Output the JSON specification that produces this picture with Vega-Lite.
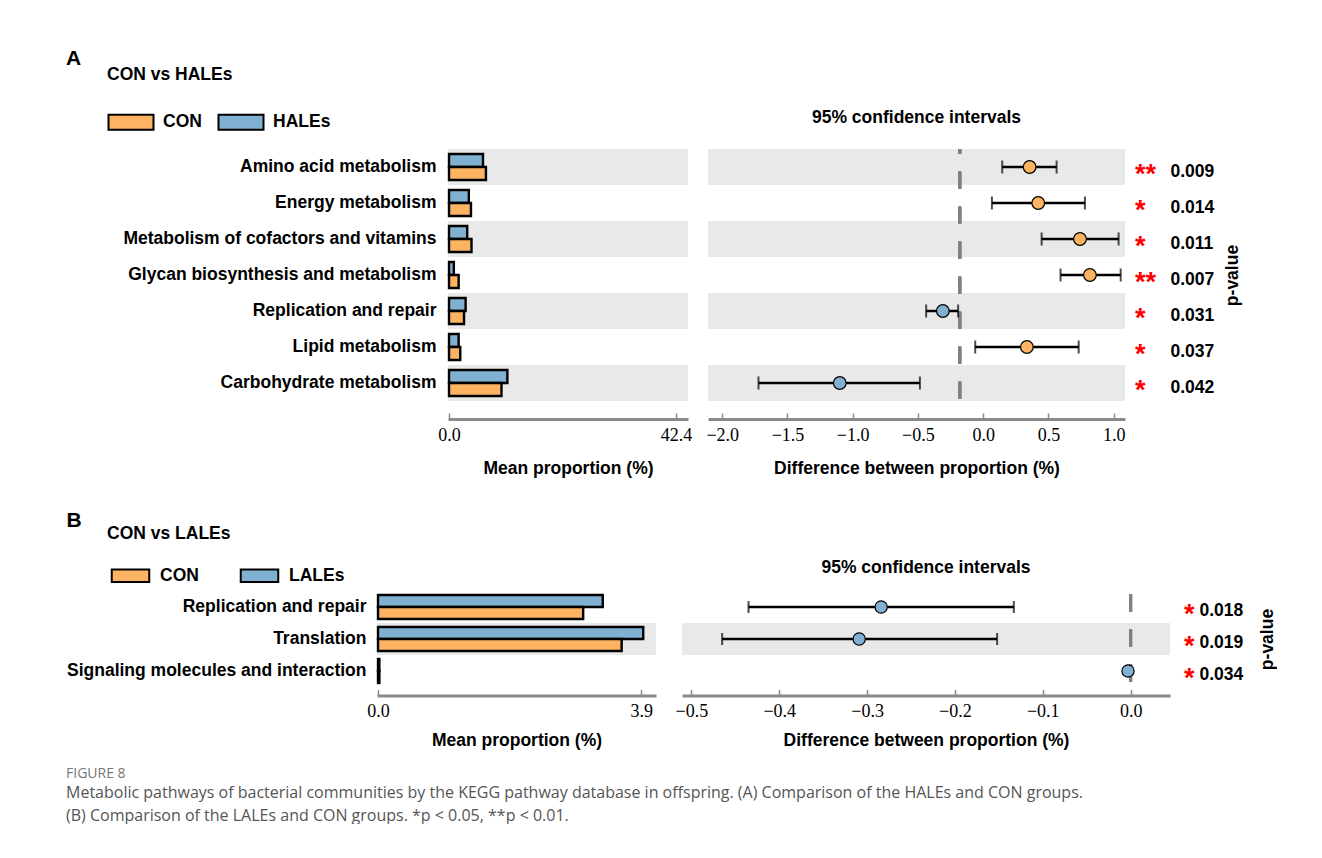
{
  "$schema": "https://vega.github.io/schema/vega-lite/v6.json",
  "padding": {"left": 66, "top": 47, "right": 0, "bottom": 0},
  "background": "white",
  "title": {
    "text": "FIGURE 8",
    "subtitle": ["Metabolic pathways of bacterial communities by the KEGG pathway database in offspring. (A) Comparison of the HALEs and CON groups.", "(B) Comparison of the LALEs and CON groups. *p < 0.05, **p < 0.01."],
    "orient": "bottom", "anchor": "start", "frame": "bounds", "offset": 18,
    "font": "Open Sans", "fontSize": 14, "fontWeight": "normal", "color": "#777777",
    "subtitleFont": "Open Sans", "subtitleFontSize": 16, "subtitleColor": "#555555", "subtitleLineHeight": 23, "subtitlePadding": 4
  },
  "datasets": {
    "a_bars": [
      {"pathway": "Amino acid metabolism", "group": "HALEs", "value": 6.35},
      {"pathway": "Amino acid metabolism", "group": "CON", "value": 6.9},
      {"pathway": "Energy metabolism", "group": "HALEs", "value": 3.7},
      {"pathway": "Energy metabolism", "group": "CON", "value": 4.1},
      {"pathway": "Metabolism of cofactors and vitamins", "group": "HALEs", "value": 3.4},
      {"pathway": "Metabolism of cofactors and vitamins", "group": "CON", "value": 4.2},
      {"pathway": "Glycan biosynthesis and metabolism", "group": "HALEs", "value": 0.9},
      {"pathway": "Glycan biosynthesis and metabolism", "group": "CON", "value": 1.8},
      {"pathway": "Replication and repair", "group": "HALEs", "value": 3.1},
      {"pathway": "Replication and repair", "group": "CON", "value": 2.8},
      {"pathway": "Lipid metabolism", "group": "HALEs", "value": 1.8},
      {"pathway": "Lipid metabolism", "group": "CON", "value": 2.1},
      {"pathway": "Carbohydrate metabolism", "group": "HALEs", "value": 10.9},
      {"pathway": "Carbohydrate metabolism", "group": "CON", "value": 9.8}
    ],
    "a_ci": [
      {"pathway": "Amino acid metabolism", "diff": 0.356, "lo": 0.146, "hi": 0.563, "grp": "CON", "p": "0.009", "stars": "**"},
      {"pathway": "Energy metabolism", "diff": 0.422, "lo": 0.067, "hi": 0.78, "grp": "CON", "p": "0.014", "stars": "*"},
      {"pathway": "Metabolism of cofactors and vitamins", "diff": 0.742, "lo": 0.448, "hi": 1.038, "grp": "CON", "p": "0.011", "stars": "*"},
      {"pathway": "Glycan biosynthesis and metabolism", "diff": 0.818, "lo": 0.593, "hi": 1.054, "grp": "CON", "p": "0.007", "stars": "**"},
      {"pathway": "Replication and repair", "diff": -0.309, "lo": -0.437, "hi": -0.192, "grp": "HALEs", "p": "0.031", "stars": "*"},
      {"pathway": "Lipid metabolism", "diff": 0.335, "lo": -0.061, "hi": 0.732, "grp": "CON", "p": "0.037", "stars": "*"},
      {"pathway": "Carbohydrate metabolism", "diff": -1.099, "lo": -1.722, "hi": -0.485, "grp": "HALEs", "p": "0.042", "stars": "*"}
    ],
    "b_bars": [
      {"pathway": "Replication and repair", "group": "LALEs", "value": 3.33},
      {"pathway": "Replication and repair", "group": "CON", "value": 3.04},
      {"pathway": "Translation", "group": "LALEs", "value": 3.93},
      {"pathway": "Translation", "group": "CON", "value": 3.61},
      {"pathway": "Signaling molecules and interaction", "group": "LALEs", "value": 0.02},
      {"pathway": "Signaling molecules and interaction", "group": "CON", "value": 0.02}
    ],
    "b_ci": [
      {"pathway": "Replication and repair", "diff": -0.284, "lo": -0.435, "hi": -0.133, "grp": "LALEs", "p": "0.018", "stars": "*"},
      {"pathway": "Translation", "diff": -0.309, "lo": -0.465, "hi": -0.152, "grp": "LALEs", "p": "0.019", "stars": "*"},
      {"pathway": "Signaling molecules and interaction", "diff": -0.003, "lo": -0.0045, "hi": -0.0015, "grp": "LALEs", "p": "0.034", "stars": "*"}
    ]
  },
  "concat": [
    {
      "title": {"text": "A", "anchor": "start", "frame": "bounds", "fontSize": 21, "fontWeight": "bold", "font": "Liberation Sans", "color": "black", "offset": -3, "dx": -41},
      "bounds": "flush",
      "spacing": 20,
      "resolve": {"scale": {"color": "independent", "fill": "independent", "x": "independent", "y": "independent"}, "legend": {"fill": "independent", "color": "independent"}},
      "hconcat": [
        {
          "width": 51, "height": 252,
          "data": {"values": []},
          "mark": {"type": "point", "opacity": 0},
          "encoding": {}
        },
        {
          "width": 240, "height": 252,
          "title": {"text": "CON vs HALEs", "anchor": "start", "frame": "group", "dx": -341, "offset": 23, "fontSize": 17.5, "fontWeight": "bold", "font": "Liberation Sans", "color": "black"},
          "layer": [
            {
              "data": {"name": "a_ci"},
              "transform": [{"filter": {"field": "pathway", "oneOf": ["Amino acid metabolism", "Metabolism of cofactors and vitamins", "Replication and repair", "Carbohydrate metabolism"]}}],
              "mark": {"type": "rect", "color": "#e9e9e9"},
              "encoding": {
                "y": {"field": "pathway", "type": "nominal",
                  "scale": {"domain": ["Amino acid metabolism", "Energy metabolism", "Metabolism of cofactors and vitamins", "Glycan biosynthesis and metabolism", "Replication and repair", "Lipid metabolism", "Carbohydrate metabolism"], "paddingInner": 0, "paddingOuter": 0},
                  "axis": {"title": null, "domain": false, "ticks": false, "labelPadding": 12, "labelFont": "Liberation Sans", "labelFontWeight": "bold", "labelFontSize": 17.5, "labelColor": "black", "labelLimit": 500}},
                "x": {"value": 0},
                "x2": {"value": "width"}
              }
            },
            {
              "data": {"name": "a_bars"},
              "mark": {"type": "bar", "stroke": "black", "strokeWidth": 2.4},
              "encoding": {
                "y": {"field": "pathway", "type": "nominal"},
                "yOffset": {"field": "group", "type": "nominal", "scale": {"domain": ["HALEs", "CON"], "paddingInner": 0, "paddingOuter": 0.385}},
                "x": {"field": "value", "type": "quantitative",
                  "scale": {"domain": [-0.19, 44.64], "nice": false, "zero": false},
                  "axis": {"values": [0, 42.4], "format": ".1f", "title": "Mean proportion (%)", "offset": 18, "domainColor": "#8a8a8a", "domainWidth": 3, "tickColor": "#8a8a8a", "tickWidth": 1.5, "tickSize": -6, "labelPadding": 13, "titlePadding": 15, "labelFlush": false, "labelOverlap": false}},
                "fill": {"field": "group", "type": "nominal", "scale": {"domain": ["CON", "HALEs"], "range": ["#FDB462", "#80B1D3"]},
                  "legend": {"orient": "none", "legendX": -333, "legendY": -43, "direction": "horizontal", "title": null, "symbolType": "M-1.5,-0.5H1.5V0.5H-1.5Z", "symbolSize": 900, "symbolStrokeColor": "black", "symbolStrokeWidth": 2, "symbolOpacity": 1, "labelFont": "Liberation Sans", "labelFontWeight": "bold", "labelFontSize": 17.5, "labelColor": "black", "labelOffset": 16, "columnPadding": 12}}
              }
            }
          ]
        },
        {
          "bounds": "flush",
          "spacing": 0,
          "resolve": {"scale": {"fill": "independent", "x": "independent", "y": "independent"}},
          "hconcat": [
            {
              "width": 417, "height": 252,
              "title": {"text": "95% confidence intervals", "offset": 21, "fontSize": 17.5, "fontWeight": "bold", "font": "Liberation Sans", "color": "black"},
              "data": {"name": "a_ci"},
              "encoding": {
                "y": {"field": "pathway", "type": "nominal", "axis": null,
                  "scale": {"domain": ["Amino acid metabolism", "Energy metabolism", "Metabolism of cofactors and vitamins", "Glycan biosynthesis and metabolism", "Replication and repair", "Lipid metabolism", "Carbohydrate metabolism"], "paddingInner": 0, "paddingOuter": 0}}
              },
              "layer": [
                {
                  "transform": [{"filter": {"field": "pathway", "oneOf": ["Amino acid metabolism", "Metabolism of cofactors and vitamins", "Replication and repair", "Carbohydrate metabolism"]}}],
                  "mark": {"type": "rect", "color": "#e9e9e9"},
                  "encoding": {"x": {"value": 0}, "x2": {"value": "width"}}
                },
                {
                  "mark": {"type": "rule", "color": "#808080", "strokeWidth": 3, "strokeDash": [17, 18], "strokeDashOffset": 12.3},
                  "encoding": {"x": {"datum": -0.18, "type": "quantitative"}, "y": null}
                },
                {
                  "mark": {"type": "rule", "color": "black", "strokeWidth": 2.5},
                  "encoding": {
                    "x": {"field": "lo", "type": "quantitative",
                      "scale": {"domain": [-2.109, 1.087], "nice": false, "zero": false},
                      "axis": {"values": [-2, -1.5, -1, -0.5, 0, 0.5, 1], "format": ".1f", "title": "Difference between proportion (%)", "offset": 18, "domainColor": "#8a8a8a", "domainWidth": 3, "tickColor": "#8a8a8a", "tickWidth": 1.5, "tickSize": -6, "labelPadding": 13, "titlePadding": 15, "labelFlush": false, "labelOverlap": false}},
                    "x2": {"field": "hi"}
                  }
                },
                {
                  "mark": {"type": "tick", "color": "black", "thickness": 2, "size": 13},
                  "encoding": {"x": {"field": "lo", "type": "quantitative"}}
                },
                {
                  "mark": {"type": "tick", "color": "black", "thickness": 2, "size": 13},
                  "encoding": {"x": {"field": "hi", "type": "quantitative"}}
                },
                {
                  "mark": {"type": "point", "shape": "circle", "filled": true, "size": 160, "stroke": "black", "strokeWidth": 1.2, "opacity": 1},
                  "encoding": {
                    "x": {"field": "diff", "type": "quantitative"},
                    "fill": {"field": "grp", "type": "nominal", "scale": {"domain": ["CON", "HALEs"], "range": ["#FDB462", "#80B1D3"]}, "legend": null}
                  }
                }
              ]
            },
            {
              "width": 20, "height": 252,
              "data": {"name": "a_ci"},
              "mark": {"type": "text", "color": "red", "fontSize": 27, "fontWeight": "bold", "font": "Liberation Sans", "align": "left", "baseline": "middle", "dy": 8},
              "encoding": {
                "y": {"field": "p", "type": "nominal",
                  "scale": {"domain": ["0.009", "0.014", "0.011", "0.007", "0.031", "0.037", "0.042"], "paddingInner": 0, "paddingOuter": 0},
                  "axis": {"orient": "right", "title": "p-value", "titleAngle": 270, "titleBaseline": "top", "titlePadding": 10, "titleFontSize": 17.5, "domain": false, "ticks": false, "labelPadding": 25, "labelOffset": 4, "labelFont": "Liberation Sans", "labelFontWeight": "bold", "labelFontSize": 17.5, "labelColor": "black"}},
                "text": {"field": "stars"}
              }
            }
          ]
        }
      ]
    },
    {
      "title": {"text": "B", "anchor": "start", "frame": "bounds", "fontSize": 21, "fontWeight": "bold", "font": "Liberation Sans", "color": "black", "offset": -6, "dx": 0},
      "bounds": "flush",
      "spacing": 26,
      "resolve": {"scale": {"color": "independent", "fill": "independent", "x": "independent", "y": "independent"}, "legend": {"fill": "independent", "color": "independent"}},
      "hconcat": [
        {
          "width": 279, "height": 96,
          "title": {"text": "CON vs LALEs", "anchor": "start", "frame": "group", "dx": -270, "offset": 20, "fontSize": 17.5, "fontWeight": "bold", "font": "Liberation Sans", "color": "black"},
          "layer": [
            {
              "data": {"name": "b_ci"},
              "transform": [{"filter": {"field": "pathway", "oneOf": ["Translation"]}}],
              "mark": {"type": "rect", "color": "#e9e9e9"},
              "encoding": {
                "y": {"field": "pathway", "type": "nominal",
                  "scale": {"domain": ["Replication and repair", "Translation", "Signaling molecules and interaction"], "paddingInner": 0, "paddingOuter": 0},
                  "axis": {"title": null, "domain": false, "ticks": false, "labelPadding": 11, "labelFont": "Liberation Sans", "labelFontWeight": "bold", "labelFontSize": 17.5, "labelColor": "black", "labelLimit": 500}},
                "x": {"value": 0},
                "x2": {"value": "width"}
              }
            },
            {
              "data": {"name": "b_bars"},
              "mark": {"type": "bar", "stroke": "black", "strokeWidth": 2.4},
              "encoding": {
                "y": {"field": "pathway", "type": "nominal"},
                "yOffset": {"field": "group", "type": "nominal", "scale": {"domain": ["LALEs", "CON"], "paddingInner": 0, "paddingOuter": 0.333}},
                "x": {"field": "value", "type": "quantitative",
                  "scale": {"domain": [-0.015, 4.119], "nice": false, "zero": false},
                  "axis": {"values": [0, 3.9], "format": ".1f", "title": "Mean proportion (%)", "offset": 8.5, "domainColor": "#8a8a8a", "domainWidth": 3, "tickColor": "#8a8a8a", "tickWidth": 1.5, "tickSize": -6, "labelPadding": 13, "titlePadding": 11, "labelFlush": false, "labelOverlap": false}},
                "fill": {"field": "group", "type": "nominal", "scale": {"domain": ["CON", "LALEs"], "range": ["#FDB462", "#80B1D3"]},
                  "legend": {"orient": "none", "legendX": -260, "legendY": -29, "direction": "horizontal", "title": null, "symbolType": "M-1.5,-0.5H1.5V0.5H-1.5Z", "symbolSize": 625, "symbolStrokeColor": "black", "symbolStrokeWidth": 2, "symbolOpacity": 1, "labelFont": "Liberation Sans", "labelFontWeight": "bold", "labelFontSize": 17.5, "labelColor": "black", "labelOffset": 16, "columnPadding": 37}}
              }
            }
          ]
        },
        {
          "bounds": "flush",
          "spacing": 0,
          "resolve": {"scale": {"fill": "independent", "x": "independent", "y": "independent"}},
          "hconcat": [
            {
              "width": 488, "height": 96,
              "title": {"text": "95% confidence intervals", "offset": 13, "fontSize": 17.5, "fontWeight": "bold", "font": "Liberation Sans", "color": "black"},
              "data": {"name": "b_ci"},
              "encoding": {
                "y": {"field": "pathway", "type": "nominal", "axis": null,
                  "scale": {"domain": ["Replication and repair", "Translation", "Signaling molecules and interaction"], "paddingInner": 0, "paddingOuter": 0}}
              },
              "layer": [
                {
                  "transform": [{"filter": {"field": "pathway", "oneOf": ["Translation"]}}],
                  "mark": {"type": "rect", "color": "#e9e9e9"},
                  "encoding": {"x": {"value": 0}, "x2": {"value": "width"}}
                },
                {
                  "mark": {"type": "rule", "color": "#808080", "strokeWidth": 3, "strokeDash": [18, 17], "strokeDashOffset": 32},
                  "encoding": {"x": {"datum": 0, "type": "quantitative"}, "y": null}
                },
                {
                  "mark": {"type": "rule", "color": "black", "strokeWidth": 2.5},
                  "encoding": {
                    "x": {"field": "lo", "type": "quantitative",
                      "scale": {"domain": [-0.5107, 0.0448], "nice": false, "zero": false},
                      "axis": {"values": [-0.5, -0.4, -0.3, -0.2, -0.1, 0], "format": ".1f", "title": "Difference between proportion (%)", "offset": 8.5, "domainColor": "#8a8a8a", "domainWidth": 3, "tickColor": "#8a8a8a", "tickWidth": 1.5, "tickSize": -6, "labelPadding": 13, "titlePadding": 11, "labelFlush": false, "labelOverlap": false}},
                    "x2": {"field": "hi"}
                  }
                },
                {
                  "mark": {"type": "tick", "color": "black", "thickness": 2, "size": 12},
                  "encoding": {"x": {"field": "lo", "type": "quantitative"}}
                },
                {
                  "mark": {"type": "tick", "color": "black", "thickness": 2, "size": 12},
                  "encoding": {"x": {"field": "hi", "type": "quantitative"}}
                },
                {
                  "mark": {"type": "point", "shape": "circle", "filled": true, "size": 150, "stroke": "black", "strokeWidth": 1.2, "opacity": 1},
                  "encoding": {
                    "x": {"field": "diff", "type": "quantitative"},
                    "fill": {"field": "grp", "type": "nominal", "scale": {"domain": ["CON", "LALEs"], "range": ["#FDB462", "#80B1D3"]}, "legend": null}
                  }
                }
              ]
            },
            {
              "width": 28, "height": 96,
              "data": {"name": "b_ci"},
              "mark": {"type": "text", "color": "red", "fontSize": 27, "fontWeight": "bold", "font": "Liberation Sans", "align": "left", "baseline": "middle", "dy": 8},
              "encoding": {
                "y": {"field": "p", "type": "nominal",
                  "scale": {"domain": ["0.018", "0.019", "0.034"], "paddingInner": 0, "paddingOuter": 0},
                  "axis": {"orient": "right", "title": "p-value", "titleAngle": 270, "titleBaseline": "top", "titlePadding": 16, "titleFontSize": 17.5, "domain": false, "ticks": false, "labelPadding": 1, "labelOffset": 3, "labelFont": "Liberation Sans", "labelFontWeight": "bold", "labelFontSize": 17.5, "labelColor": "black"}},
                "text": {"field": "stars"}
              }
            }
          ]
        }
      ]
    }
  ],
  "columns": 1,
  "spacing": 32,
  "bounds": "full",
  "align": "none",
  "resolve": {"scale": {"color": "independent", "fill": "independent", "x": "independent", "y": "independent", "yOffset": "independent"}, "legend": {"fill": "independent", "color": "independent"}},
  "config": {
    "view": {"stroke": null},
    "font": "Liberation Sans",
    "axis": {"labelFont": "Liberation Serif", "labelFontSize": 18, "labelColor": "black", "titleFont": "Liberation Sans", "titleFontSize": 17.5, "titleFontWeight": "bold", "titleColor": "black", "grid": false}
  }
}
